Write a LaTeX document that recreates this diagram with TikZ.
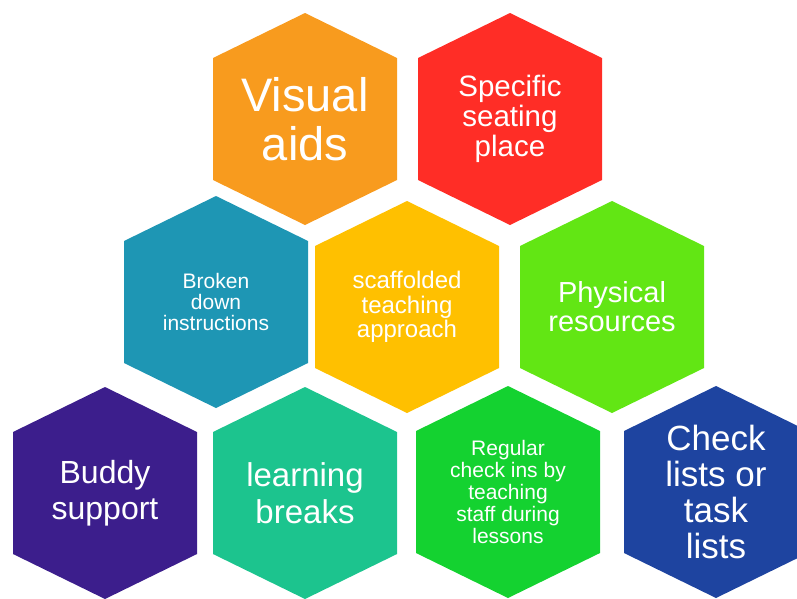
\documentclass[tikz,border=0pt]{standalone}
\usepackage{fontspec}
\setmainfont{Liberation Sans}
\usepackage{tikz}
\usetikzlibrary{positioning}

\definecolor{hexorange}{HTML}{F89B1E}
\definecolor{hexred}{HTML}{FF2D26}
\definecolor{hexteal}{HTML}{1E96B4}
\definecolor{hexyellow}{HTML}{FFC000}
\definecolor{hexlime}{HTML}{62E614}
\definecolor{hexpurple}{HTML}{3C1E8C}
\definecolor{hexmint}{HTML}{1CC48E}
\definecolor{hexgreen}{HTML}{14D230}
\definecolor{hexblue}{HTML}{1E44A0}

\tikzset{
  hexlabel/.style={text=white,align=center,inner sep=0pt}
}

\begin{document}
\begin{tikzpicture}[x=1pt,y=-1pt]
\useasboundingbox (0,0) rectangle (797,598);
\clip (0,0) rectangle (797,598);
% one hexagon per strategy: name/x/y/colour/font size/line skip/text
\foreach \n/\x/\y/\c/\fs/\ls/\t in {
  va/305/119/hexorange/47/49/{Visual\\aids},
  ssp/510/119/hexred/29.5/30/{Specific\\seating\\place},
  bdi/216/302/hexteal/21/21/{Broken\\down\\instructions},
  sta/407/307/hexyellow/24/24.5/{scaffolded\\teaching\\approach},
  pr/612/307/hexlime/29/29/{Physical\\resources},
  bs/105/493/hexpurple/32/36/{Buddy\\support},
  lb/305/493/hexmint/33/37/{learning\\breaks},
  rci/508/492/hexgreen/21/22/{Regular\\check ins by\\teaching\\staff during\\lessons},
  cl/716/492/hexblue/35/36/{Check\\lists or\\task\\lists}}
{
  \fill[\c] (\x,\y) +(0,-106) -- +(92,-61) -- +(92,61) -- +(0,106)
    -- +(-92,61) -- +(-92,-61) -- cycle;
  \node[hexlabel,font=\fontsize{\fs}{\ls}\selectfont] (\n) at (\x,\y) {\t};
}
\end{tikzpicture}
\end{document}
